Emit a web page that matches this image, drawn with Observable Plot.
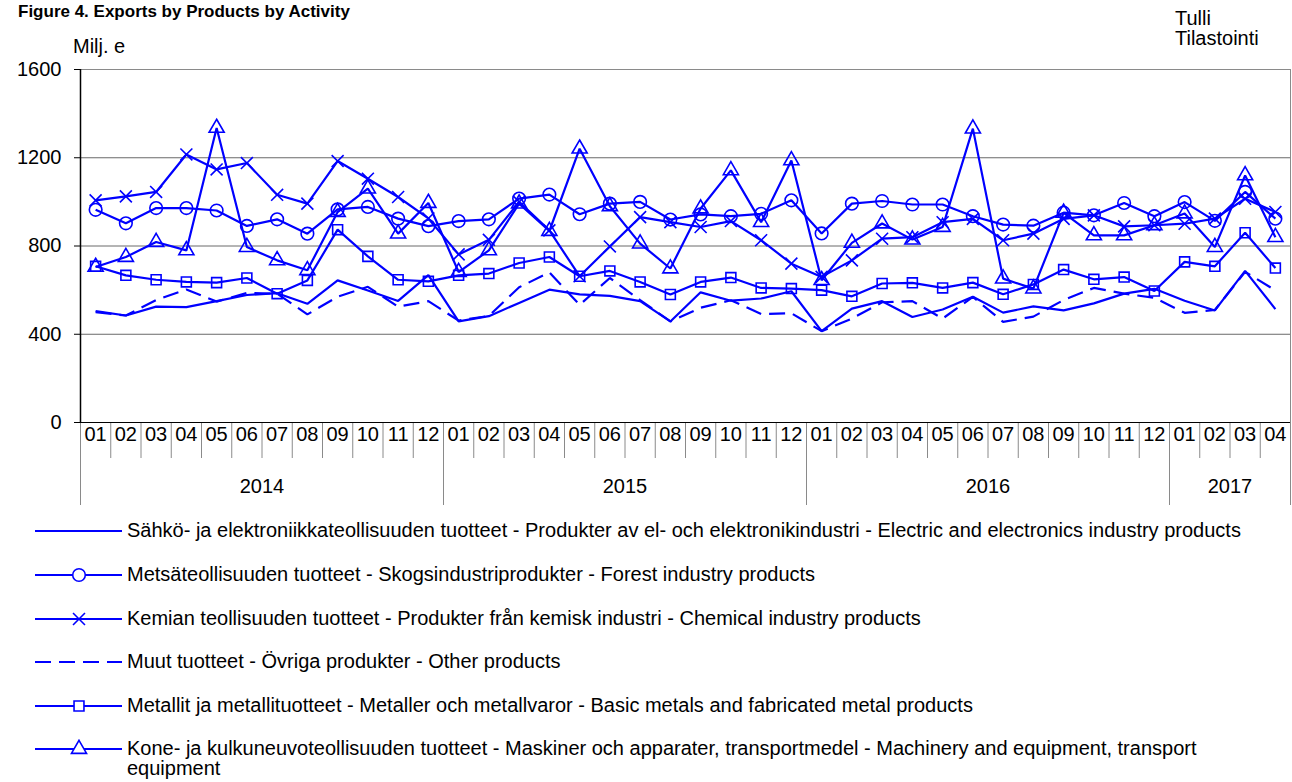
<!DOCTYPE html>
<html><head><meta charset="utf-8">
<script src="https://cdn.jsdelivr.net/npm/d3@7"></script>
<script src="https://cdn.jsdelivr.net/npm/@observablehq/plot@0.6"></script>
<style>
body{margin:0;background:#fff;font-family:"Liberation Sans",Arial,sans-serif;}
#wrap{position:relative;width:1292px;height:782px;overflow:hidden;background:#fff}
.abs{position:absolute;white-space:nowrap;color:#000}
#plot{position:absolute;left:0;top:0}
</style></head><body><div id="wrap"><div id="plot"></div></div>
<script>
// ---- data ----
const months = ["01","02","03","04","05","06","07","08","09","10","11","12",
                "01","02","03","04","05","06","07","08","09","10","11","12",
                "01","02","03","04","05","06","07","08","09","10","11","12",
                "01","02","03","04"];
const yearLabels = ["2014","2015","2016","2017"];
const yearMonthCounts = [12,12,12,4];
const yTicks = [0,400,800,1200,1600];
const seriesNames = [
  "Sähkö- ja elektroniikkateollisuuden tuotteet - Produkter av el- och elektronikindustri - Electric and electronics industry products",
  "Metsäteollisuuden tuotteet - Skogsindustriprodukter - Forest industry products",
  "Kemian teollisuuden tuotteet - Produkter från kemisk industri - Chemical industry products",
  "Muut tuotteet - Övriga produkter - Other products",
  "Metallit ja metallituotteet - Metaller och metallvaror - Basic metals and fabricated metal products",
  "Kone- ja kulkuneuvoteollisuuden tuotteet - Maskiner och apparater, transportmedel -  Machinery and equipment, transport equipment"
];
const electronics = [505,485,525,523,550,578,586,538,644,598,551,668,
                     458,482,542,602,581,574,550,458,590,552,562,595,
                     414,516,550,478,512,570,498,526,508,540,584,606,
                     552,508,687,514];
const forest =      [964,903,972,972,961,891,921,856,966,977,924,890,
                     913,921,1015,1033,944,992,1000,920,943,935,946,1007,
                     857,992,1004,988,988,935,897,892,951,939,995,935,
                     999,914,1045,924];
const chemical =    [1007,1025,1045,1215,1147,1176,1032,992,1185,1105,1022,925,
                     762,828,1000,871,663,798,931,908,886,913,826,720,
                     660,735,833,840,908,923,826,856,923,939,889,894,
                     901,924,1014,954];
const other =       [500,485,555,603,548,587,584,490,570,615,525,550,
                     462,483,613,680,533,655,555,458,520,554,492,495,
                     414,471,545,550,471,569,456,480,555,610,584,565,
                     497,510,683,599];
const metals =      [708,667,647,637,634,655,584,644,874,753,647,640,
                     667,675,723,750,663,687,637,580,637,657,610,607,
                     600,572,630,633,610,634,581,626,693,649,659,596,
                     728,708,860,700];
const machinery =   [705,750,818,780,1335,795,735,690,954,1060,856,995,
                     682,780,992,868,1241,980,811,698,970,1143,908,1188,
                     645,814,902,829,886,1332,652,607,950,848,848,894,
                     947,795,1120,840];

// ---- build tables ----
const BLUE = "#0000ff";
const FONT = "Liberation Sans, Arial, sans-serif";
const n = months.length;
const monthRows = months.map((m,i)=>({pos:i+0.5,label:m}));
const boundaries = [0];
yearMonthCounts.forEach(c=>boundaries.push(boundaries[boundaries.length-1]+c));
const yearRows = yearLabels.map((y,k)=>({center:(boundaries[k]+boundaries[k+1])/2,label:y}));

const seriesDefs = [
  {name:seriesNames[0], values:electronics, symbol:null, dash:null},
  {name:seriesNames[1], values:forest, symbol:"circle", r:6.3},
  {name:seriesNames[2], values:chemical, symbol:"times", r:5.5},
  {name:seriesNames[3], values:other, symbol:null, dash:"16,8"},
  {name:seriesNames[4], values:metals, symbol:"square", r:5.6},
  {name:seriesNames[5], values:machinery, symbol:"triangle", r:5.6}
];

const seriesMarks = [];
for (const s of seriesDefs) {
  const rows = s.values.map((v,i)=>({pos:i+0.5,value:v}));
  seriesMarks.push(Plot.line(rows,{x:"pos",y:"value",stroke:BLUE,strokeWidth:2.2,
    strokeDasharray:s.dash||undefined,strokeLinejoin:"miter",strokeLinecap:"butt"}));
  if (s.symbol) seriesMarks.push(Plot.dot(rows,{x:"pos",y:"value",symbol:s.symbol,r:s.r,
    stroke:BLUE,fill:"none",strokeWidth:1.6}));
}

const chart = Plot.plot({
  width:1292, height:510,
  marginLeft:80, marginRight:2, marginTop:69, marginBottom:88,
  x:{domain:[0,n], axis:null},
  y:{domain:[0,1600], axis:null},
  style:{fontFamily:FONT, fontSize:"20px", color:"#000", background:"#fff", overflow:"visible"},
  marks:[
    Plot.gridY([400,800,1200],{stroke:"#6a6a6a",strokeOpacity:1}),
    Plot.ruleY([1600],{stroke:"#8a8a8a"}),
    Plot.ruleX([n],{stroke:"#8a8a8a"}),
    Plot.axisX(d3.range(n+1),{tickSize:36,tickFormat:()=>"",stroke:"#8a8a8a",label:null}),
    Plot.axisX(boundaries,{tickSize:83,tickFormat:()=>"",stroke:"#8a8a8a",label:null}),
    Plot.axisY(yTicks,{tickSize:6,tickPadding:13,fontSize:20,label:null,stroke:"#000",tickFormat:d=>String(d)}),
    Plot.ruleX([0],{stroke:"#000",strokeWidth:1.5}),
    Plot.ruleY([0],{stroke:"#000"}),
    Plot.text(monthRows,{x:"pos",text:"label",frameAnchor:"bottom",dy:18,fontSize:20,fill:"#000"}),
    Plot.text(yearRows,{x:"center",text:"label",frameAnchor:"bottom",dy:70,fontSize:20,fill:"#000"}),
    ...seriesMarks
  ]
});
document.getElementById("plot").appendChild(chart);

// ---- titles ----
const wrap = document.getElementById("wrap");
function addText(txt, css){ const d=document.createElement("div"); d.className="abs"; d.textContent=txt; Object.assign(d.style,css); wrap.appendChild(d); return d; }
addText("Figure 4. Exports by Products by Activity",{left:"18px",top:"2px",fontSize:"17px",fontWeight:"bold",lineHeight:"20px"});
addText("Milj. e",{left:"73px",top:"35px",fontSize:"20px",lineHeight:"23px"});
addText("Tulli",{left:"1175px",top:"8px",fontSize:"20px",lineHeight:"21px"});
addText("Tilastointi",{left:"1175px",top:"28px",fontSize:"20px",lineHeight:"21px"});

// ---- legend ----
const legendCenters = [531,575,619,662,706,749];
seriesDefs.forEach((s,k)=>{
  const cy = legendCenters[k];
  const svg = d3.select(wrap).append("svg").attr("width",100).attr("height",20)
    .style("position","absolute").style("left","30px").style("top",(cy-10)+"px");
  svg.append("line").attr("x1",5).attr("x2",92).attr("y1",10).attr("y2",10)
    .attr("stroke",BLUE).attr("stroke-width",2.2).attr("stroke-dasharray",s.dash||null);
  if (s.symbol){
    const typeMap={circle:d3.symbolCircle,times:d3.symbolTimes,square:d3.symbolSquare,triangle:d3.symbolTriangle};
    svg.append("path").attr("transform","translate(49,10)")
      .attr("d",d3.symbol(typeMap[s.symbol], Math.PI*s.r*s.r)())
      .attr("fill","#fff").attr("stroke",BLUE).attr("stroke-width",1.6);
  }
  addText(s.name,{left:"127px",top:(cy-11)+"px",fontSize:"20px",lineHeight:"20px",whiteSpace:"normal",width:"1160px"});
});
</script></body></html>
